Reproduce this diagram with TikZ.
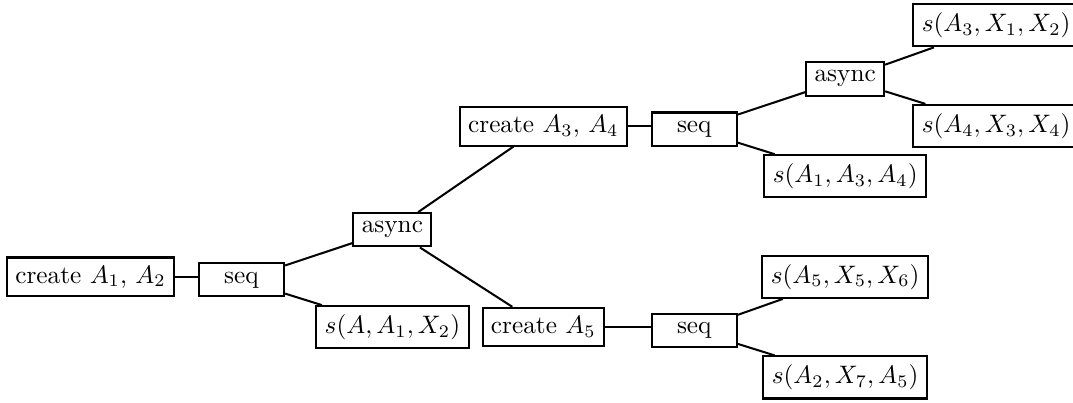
\documentclass[tikz,border=0pt]{standalone}
\usepackage{tikz}
\usepackage{amsmath, amssymb}

\begin{document}
\begin{tikzpicture}[
  x=2.1cm, y=0.7cm,
  op/.style={draw, thick, anchor=base, inner sep=3.33pt},
  seqop/.style={op, minimum width=33.8pt},
  edge/.style={thick}
]
  \useasboundingbox (-1.26cm, -1.66cm) rectangle (13.67cm, 3.94cm);
  \node[op] (create12) at (0, 0) {create $A_1$, $A_2$};
  \node[seqop] (seqa) at (1, 0) {seq};
  \node[op] (asynca) at (2, 1) {async};
  \node[op] (sa) at (2, -1) {$s(A, A_1, X_2)$};
  \node[op] (create34) at (3, 3) {create $A_3$, $A_4$};
  \node[op] (create5) at (3, -1) {create $A_5$};
  \node[seqop] (seqb) at (4, 3) {seq};
  \node[seqop] (seqc) at (4, -1) {seq};
  \node[op] (asyncb) at (5, 4) {async};
  \node[op] (s134) at (5, 2) {$s(A_1, A_3, A_4)$};
  \node[op] (s556) at (5, 0) {$s(A_5, X_5, X_6)$};
  \node[op] (s275) at (5, -2) {$s(A_2, X_7, A_5)$};
  \node[op] (s312) at (6, 5) {$s(A_3, X_1, X_2)$};
  \node[op] (s434) at (6, 3) {$s(A_4, X_3, X_4)$};

  \draw[edge] (create12.east) -- (create12.east -| seqa.west);
  \draw[edge] (seqa) -- (asynca);
  \draw[edge] (seqa) -- (sa);
  \draw[edge] (asynca) -- (create34);
  \draw[edge] (asynca) -- (create5);
  \draw[edge] (create34.east) -- (create34.east -| seqb.west);
  \draw[edge] (create5.east) -- (create5.east -| seqc.west);
  \draw[edge] (seqb) -- (asyncb);
  \draw[edge] (seqb) -- (s134);
  \draw[edge] (seqc) -- (s556);
  \draw[edge] (seqc) -- (s275);
  \draw[edge] (asyncb) -- (s312);
  \draw[edge] (asyncb) -- (s434);
\end{tikzpicture}
\end{document}
